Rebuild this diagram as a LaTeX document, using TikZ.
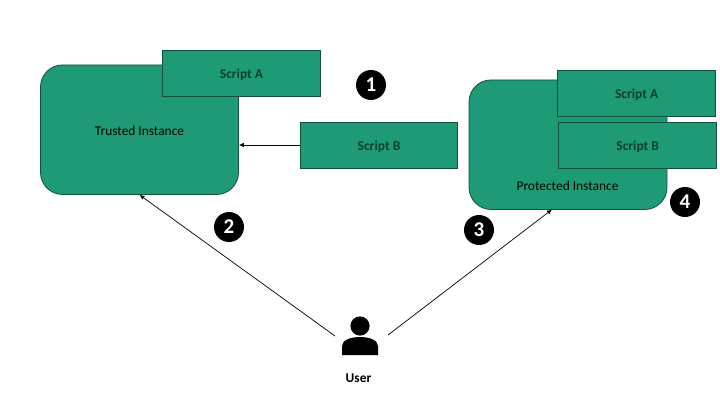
\documentclass[tikz,border=0pt]{standalone}
\usepackage{fontspec}
\setmainfont{Carlito}
\usetikzlibrary{arrows.meta,calc}
\definecolor{tealfill}{HTML}{1F9A76}
\definecolor{tealline}{HTML}{134F3F}
\definecolor{scripttext}{HTML}{0C3F32}
\newcommand{\scrtxt}[1]{\raisebox{0pt}[\dimexpr\height+3pt\relax][\depth]{#1}}
\tikzset{
  instance/.style={draw=tealline,fill=tealfill,line width=0.8pt,rounded corners=22pt,minimum width=198pt,minimum height=129.5pt,inner sep=0pt},
  scriptbox/.style={draw=tealline,fill=tealfill,line width=0.8pt,minimum width=158pt,minimum height=46pt,inner sep=0pt,text=scripttext,font=\fontsize{13.5}{15}\selectfont\bfseries},
  badge/.style={circle,fill=black,text=white,minimum size=30pt,inner sep=0pt,font=\fontsize{21}{23}\selectfont},
  conn/.style={draw=black,line width=0.7pt,-{Latex[length=5pt,width=4.5pt]}},
  lbl/.style={inner sep=0pt,text=black,font=\fontsize{13.4}{15}\selectfont\bfseries},
  inst/.style={inner sep=0pt,text=black,font=\fontsize{13.4}{15}\selectfont}
}
\begin{document}
\begin{tikzpicture}[x=1pt,y=-1pt]
\useasboundingbox (0,0) rectangle (720,405);
\node[instance] (trusted) at (139.5,129.7) {};
\node[inst] (trustedlbl) at (139.5,131) {Trusted Instance};
\node[instance] (protected) at (568,144.7) {};
\node[scriptbox] (scriptA) at (241.5,73.5) {\scrtxt{Script A}};
\node[scriptbox,minimum width=157pt] (scriptB) at (379,145) {\scrtxt{Script B}};
\node[scriptbox] (scriptAp) at (636.7,93.3) {\scrtxt{Script A}};
\node[scriptbox] (scriptBp) at (637.7,145) {\scrtxt{Script B}};
\node[inst] (protectedlbl) at (567.5,186) {Protected Instance};
\node[badge] (b1) at (371,85) {\textbf{1}};
\node[badge] (b2) at (229,227) {\textbf{2}};
\node[badge] (b3) at (479,230) {\textbf{3}};
\node[badge] (b4) at (685,202) {\textbf{4}};
% user icon
\fill[black] (360,326) circle (9.6);
\fill[black] (342,355) -- (342,346) .. controls (342,340) and (351,337) .. (360,337) .. controls (369,337) and (378,340) .. (378,346) -- (378,355) -- cycle;
\node[lbl] (user) at (358.5,378.5) {User};
\coordinate (userL) at (335,336);
\coordinate (userR) at (388,335);
\coordinate (protIn) at (552,209.5);
\draw[conn] (scriptB.west) -- (scriptB.west -| trusted.east);
\draw[conn] (userL) -- (trusted.south);
\draw[conn] (userR) -- (protIn);
\end{tikzpicture}
\end{document}
